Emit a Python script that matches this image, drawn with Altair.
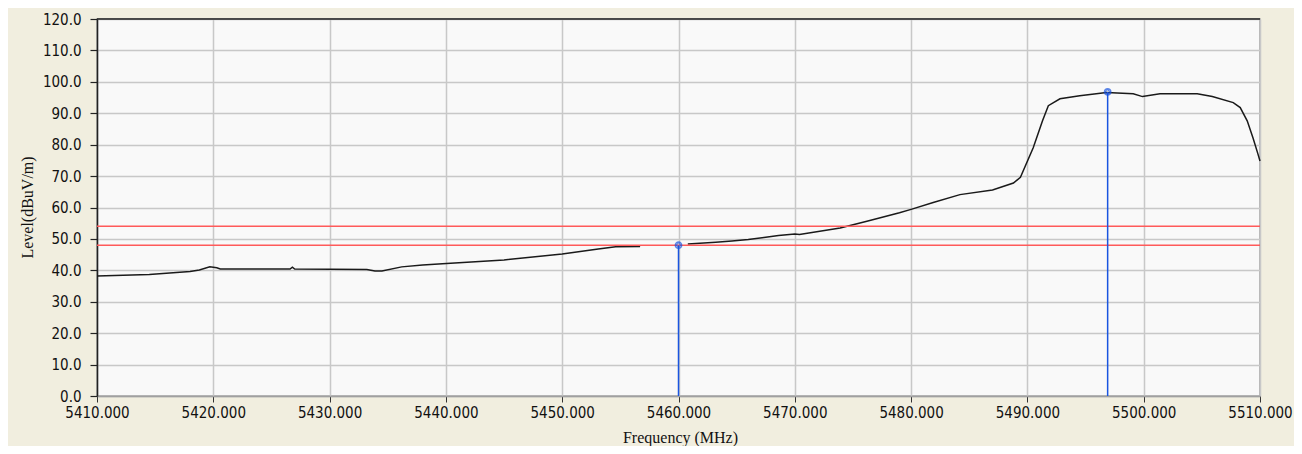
import altair as alt
import pandas as pd

# Trace segments (Frequency MHz, Level dBuV/m)
seg1_freq = [5410.0, 5414.5, 5418.0, 5418.8, 5419.7, 5420.3, 5420.6, 5426.6, 5426.8, 5427.0,
             5433.2, 5433.9, 5434.5, 5436.2, 5438.0, 5439.7, 5445.0, 5450.0, 5453.1, 5454.6, 5456.7]
seg1_level = [38.2, 38.7, 39.6, 40.1, 41.1, 40.8, 40.4, 40.4, 41.0, 40.4,
              40.3, 39.8, 39.8, 41.1, 41.7, 42.1, 43.3, 45.2, 46.8, 47.5, 47.6]
seg2_freq = [5460.8, 5463.2, 5464.6, 5466.0, 5467.5, 5468.6, 5470.0, 5470.4, 5473.9, 5476.2,
             5479.0, 5480.0, 5481.9, 5484.2, 5487.0, 5488.8, 5489.4, 5490.5, 5491.3, 5491.8,
             5492.8, 5494.5, 5496.8, 5499.1, 5499.9, 5501.4, 5504.6, 5505.9, 5507.7, 5508.3,
             5508.9, 5509.4, 5509.8, 5510.0]
seg2_level = [48.4, 48.9, 49.3, 49.8, 50.5, 51.1, 51.6, 51.4, 53.5, 55.6,
              58.3, 59.4, 61.6, 64.1, 65.6, 67.8, 69.6, 79.0, 87.6, 92.4,
              94.6, 95.6, 96.6, 96.2, 95.3, 96.2, 96.2, 95.3, 93.4, 91.8,
              87.6, 82.1, 77.3, 74.8]

limit_levels = [54.0, 48.0]
marker_freq = [5460.0, 5496.9]
marker_level = [48.0, 96.8]

x_ticks = [5410 + 10 * i for i in range(11)]
y_ticks = [10 * i for i in range(13)]

trace = pd.DataFrame({
    "freq": seg1_freq + seg2_freq,
    "level": seg1_level + seg2_level,
    "seg": ["a"] * len(seg1_freq) + ["b"] * len(seg2_freq),
})
limits = pd.DataFrame({"level": limit_levels})
markers = pd.DataFrame({"freq": marker_freq, "level": marker_level, "base": [0.0, 0.0]})
top = pd.DataFrame({"level": [120.0]})

LABEL_FONT = "Liberation Sans Narrow, DejaVu Sans Condensed, Liberation Sans"
TITLE_FONT = "Liberation Serif"

xscale = alt.Scale(domain=[5410, 5510], nice=False, zero=False)
yscale = alt.Scale(domain=[0, 120], nice=False)

xaxis = alt.Axis(
    values=x_ticks, format=".3f", title="Frequency (MHz)",
    grid=True, gridColor="#c8c8c8", gridWidth=1.5,
    domainColor="#a0a0a0", domainWidth=1.5,
    tickColor="#333333", tickSize=6, tickWidth=1, labelPadding=3,
    labelFont=LABEL_FONT, labelFontSize=15, labelColor="#111111",
    labelOverlap=False, labelFlush=False, labelBound=False,
    titleFont=TITLE_FONT, titleFontSize=16, titleFontWeight="normal", titleColor="#111111",
    titleX=583, titleY=41, titleBaseline="middle", titleAlign="center",
)
yaxis = alt.Axis(
    values=y_ticks, format=".1f", title="Level(dBuV/m)",
    grid=True, gridColor="#c8c8c8", gridWidth=1.5,
    domainColor="#222222", domainWidth=1.5,
    tickColor="#222222", tickSize=7, tickWidth=1.2, labelPadding=9,
    labelFont=LABEL_FONT, labelFontSize=15, labelColor="#111111",
    labelOverlap=False, labelFlush=False, labelBound=False,
    titleFont=TITLE_FONT, titleFontSize=16, titleFontWeight="normal", titleColor="#111111",
    titleX=-70, titleY=188, titleBaseline="middle", titleAlign="center", titleAngle=-90,
)


def X(field):
    return alt.X(field, type="quantitative", scale=xscale, axis=xaxis, title="Frequency (MHz)")


def Y(field):
    return alt.Y(field, type="quantitative", scale=yscale, axis=yaxis, title="Level(dBuV/m)")


line = alt.Chart(trace).mark_line(color="#1a1a1a", strokeWidth=1.5).encode(
    x=X("freq"),
    y=Y("level"),
    detail="seg:N",
)

limit_rules = alt.Chart(limits).mark_rule(color="#ff5a5a", strokeWidth=1.5).encode(
    y=Y("level"),
)

top_rule = alt.Chart(top).mark_rule(color="#222222", strokeWidth=1.5).encode(
    y=Y("level"),
)

marker_rules = alt.Chart(markers).mark_rule(color="#1a55e0", strokeWidth=1.5).encode(
    x=X("freq"),
    y=Y("base"),
    y2="level:Q",
)

marker_pts = alt.Chart(markers).mark_point(
    shape="circle", color="#1a55e0", filled=False, size=40, strokeWidth=1.5
).encode(
    x=X("freq"),
    y=Y("level"),
)
marker_cross = alt.Chart(markers).mark_point(
    shape="cross", color="#1a55e0", filled=False, size=18, strokeWidth=1
).encode(
    x=X("freq"),
    y=Y("level"),
)

chart = alt.layer(
    line, limit_rules, marker_rules, marker_pts, marker_cross, top_rule
).properties(
    width=1163, height=377,
    background="#f1eedf",
    padding={"left": 89, "top": 11, "right": 34, "bottom": 50},
    autosize=alt.AutoSizeParams(type="none"),
).configure_view(
    fill="#f9f9f9", stroke="#a0a0a0", strokeWidth=1.5,
)

chart.save("out.html", embed_options={"renderer": "svg", "actions": False})
